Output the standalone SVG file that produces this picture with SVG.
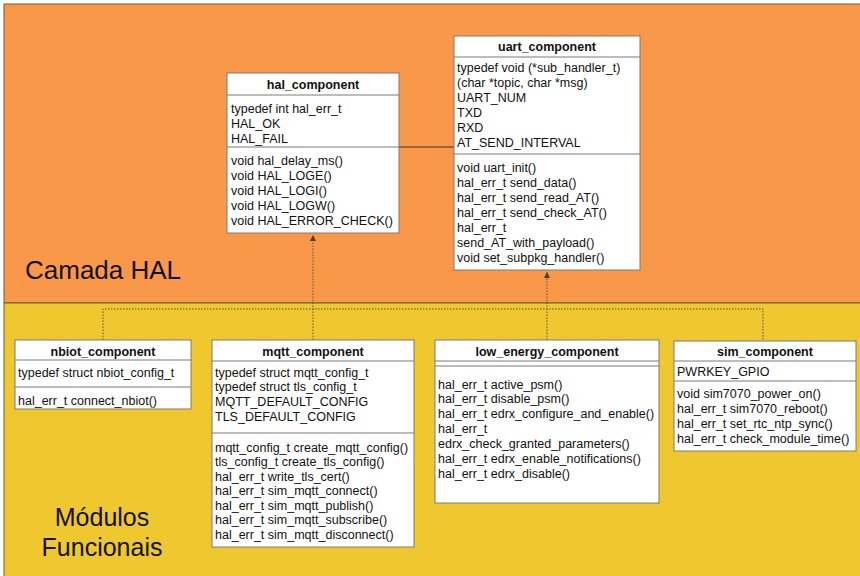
<svg xmlns="http://www.w3.org/2000/svg" width="860" height="576" viewBox="0 0 860 576">
  <style>
    .box { fill: #ffffff; stroke: #7a7a7a; stroke-width: 1; }
    .sep { stroke: #7a7a7a; stroke-width: 1; }
    .t { font-family: "Liberation Sans", Arial, sans-serif; font-size: 12.5px; fill: #111111; }
    .title { font-family: "Liberation Sans", Arial, sans-serif; font-size: 12.5px; font-weight: bold; fill: #111111; text-anchor: middle; }
    .layer { font-family: "Liberation Sans", Arial, sans-serif; font-size: 25px; fill: #111111; }
    .dep { fill: none; stroke: #5a5040; stroke-width: 1; stroke-dasharray: 1.5 1.5; }
    .assoc { fill: none; stroke: #333333; stroke-width: 1; }
  </style>
  <defs>
    <marker id="arrow" markerWidth="8" markerHeight="8" refX="6" refY="3" orient="auto" markerUnits="userSpaceOnUse">
      <path d="M0,0 L6,3 L0,6 Z" fill="#4a4030"/>
    </marker>
  </defs>

  <!-- page background -->
  <rect x="0" y="0" width="860" height="576" fill="#ffffff"/>

  <!-- layers -->
  <g id="layer-hal">
    <rect x="4" y="4" width="858" height="299" fill="#FA984A" stroke="#6b5a40" stroke-width="1"/>
    <text class="layer" x="25" y="279" style="font-size:26px">Camada HAL</text>
  </g>
  <g id="layer-modulos">
    <rect x="4" y="303" width="858" height="276" fill="#EFC830" stroke="#6b5a40" stroke-width="1"/>
    <text class="layer" x="102" y="526" text-anchor="middle">Módulos</text>
    <text class="layer" x="102" y="556" text-anchor="middle">Funcionais</text>
  </g>

  <!-- connectors -->
  <g id="connectors">
    <line class="assoc" x1="399" y1="147" x2="454" y2="147"/>
    <path class="dep" d="M313,340 V235" marker-end="url(#arrow)"/>
    <path class="dep" d="M547,340 V272" marker-end="url(#arrow)"/>
    <path class="dep" d="M103,340 V309 H763 V341"/>
  </g>

  <!-- hal_component -->
  <g id="hal_component">
    <rect class="box" x="227" y="73" width="172" height="160"/>
    <line class="sep" x1="227" y1="95" x2="399" y2="95"/>
    <line class="sep" x1="227" y1="147" x2="399" y2="147"/>
    <text class="title" x="313" y="88.5">hal_component</text>
    <text class="t" x="231" y="112.5">typedef int hal_err_t</text>
    <text class="t" x="231" y="127.5">HAL_OK</text>
    <text class="t" x="231" y="142.5">HAL_FAIL</text>
    <text class="t" x="231" y="164.5">void hal_delay_ms()</text>
    <text class="t" x="231" y="179.5">void HAL_LOGE()</text>
    <text class="t" x="231" y="194.5">void HAL_LOGI()</text>
    <text class="t" x="231" y="209.5">void HAL_LOGW()</text>
    <text class="t" x="231" y="224.5">void HAL_ERROR_CHECK()</text>
  </g>

  <!-- uart_component -->
  <g id="uart_component">
    <rect class="box" x="454" y="36" width="186" height="234"/>
    <line class="sep" x1="454" y1="57" x2="640" y2="57"/>
    <line class="sep" x1="454" y1="154" x2="640" y2="154"/>
    <text class="title" x="547" y="50.5">uart_component</text>
    <text class="t" x="457" y="71.5">typedef void (*sub_handler_t)</text>
    <text class="t" x="457" y="86.5">(char *topic, char *msg)</text>
    <text class="t" x="457" y="101.5">UART_NUM</text>
    <text class="t" x="457" y="116.5">TXD</text>
    <text class="t" x="457" y="131.5">RXD</text>
    <text class="t" x="457" y="146.5">AT_SEND_INTERVAL</text>
    <text class="t" x="457" y="171.5">void uart_init()</text>
    <text class="t" x="457" y="186.5">hal_err_t send_data()</text>
    <text class="t" x="457" y="201.5">hal_err_t send_read_AT()</text>
    <text class="t" x="457" y="216.5">hal_err_t send_check_AT()</text>
    <text class="t" x="457" y="231.5">hal_err_t</text>
    <text class="t" x="457" y="246.5">send_AT_with_payload()</text>
    <text class="t" x="457" y="261.5">void set_subpkg_handler()</text>
  </g>

  <!-- nbiot_component -->
  <g id="nbiot_component">
    <rect class="box" x="15" y="340" width="176" height="69"/>
    <line class="sep" x1="15" y1="360" x2="191" y2="360"/>
    <line class="sep" x1="15" y1="387" x2="191" y2="387"/>
    <text class="title" x="103" y="355.5">nbiot_component</text>
    <text class="t" x="18" y="376.5">typedef struct nbiot_config_t</text>
    <text class="t" x="18" y="404.5">hal_err_t connect_nbiot()</text>
  </g>

  <!-- mqtt_component -->
  <g id="mqtt_component">
    <rect class="box" x="212" y="340" width="202" height="207"/>
    <line class="sep" x1="212" y1="361" x2="414" y2="361"/>
    <line class="sep" x1="212" y1="433" x2="414" y2="433"/>
    <text class="title" x="313" y="355.5">mqtt_component</text>
    <text class="t" x="215" y="376.5">typedef struct mqtt_config_t</text>
    <text class="t" x="215" y="391.2">typedef struct tls_config_t</text>
    <text class="t" x="215" y="405.9">MQTT_DEFAULT_CONFIG</text>
    <text class="t" x="215" y="420.6">TLS_DEFAULT_CONFIG</text>
    <text class="t" x="215" y="451.5">mqtt_config_t create_mqtt_config()</text>
    <text class="t" x="215" y="466">tls_config_t create_tls_config()</text>
    <text class="t" x="215" y="480.5">hal_err_t write_tls_cert()</text>
    <text class="t" x="215" y="495">hal_err_t sim_mqtt_connect()</text>
    <text class="t" x="215" y="509.5">hal_err_t sim_mqtt_publish()</text>
    <text class="t" x="215" y="524">hal_err_t sim_mqtt_subscribe()</text>
    <text class="t" x="215" y="538.5">hal_err_t sim_mqtt_disconnect()</text>
  </g>

  <!-- low_energy_component -->
  <g id="low_energy_component">
    <rect class="box" x="435" y="340" width="224" height="163"/>
    <line class="sep" x1="435" y1="361" x2="659" y2="361"/>
    <line class="sep" x1="435" y1="366" x2="659" y2="366"/>
    <text class="title" x="547" y="355.5">low_energy_component</text>
    <text class="t" x="438" y="388.5">hal_err_t active_psm()</text>
    <text class="t" x="438" y="403.4">hal_err_t disable_psm()</text>
    <text class="t" x="438" y="418.3">hal_err_t edrx_configure_and_enable()</text>
    <text class="t" x="438" y="433.2">hal_err_t</text>
    <text class="t" x="438" y="448.1">edrx_check_granted_parameters()</text>
    <text class="t" x="438" y="463">hal_err_t edrx_enable_notifications()</text>
    <text class="t" x="438" y="477.9">hal_err_t edrx_disable()</text>
  </g>

  <!-- sim_component -->
  <g id="sim_component">
    <rect class="box" x="674" y="341" width="182" height="110"/>
    <line class="sep" x1="674" y1="361" x2="856" y2="361"/>
    <line class="sep" x1="674" y1="381" x2="856" y2="381"/>
    <text class="title" x="765" y="355.5">sim_component</text>
    <text class="t" x="677" y="376">PWRKEY_GPIO</text>
    <text class="t" x="677" y="397.5">void sim7070_power_on()</text>
    <text class="t" x="677" y="412.5">hal_err_t sim7070_reboot()</text>
    <text class="t" x="677" y="427.5">hal_err_t set_rtc_ntp_sync()</text>
    <text class="t" x="677" y="442.5">hal_err_t check_module_time()</text>
  </g>
</svg>
